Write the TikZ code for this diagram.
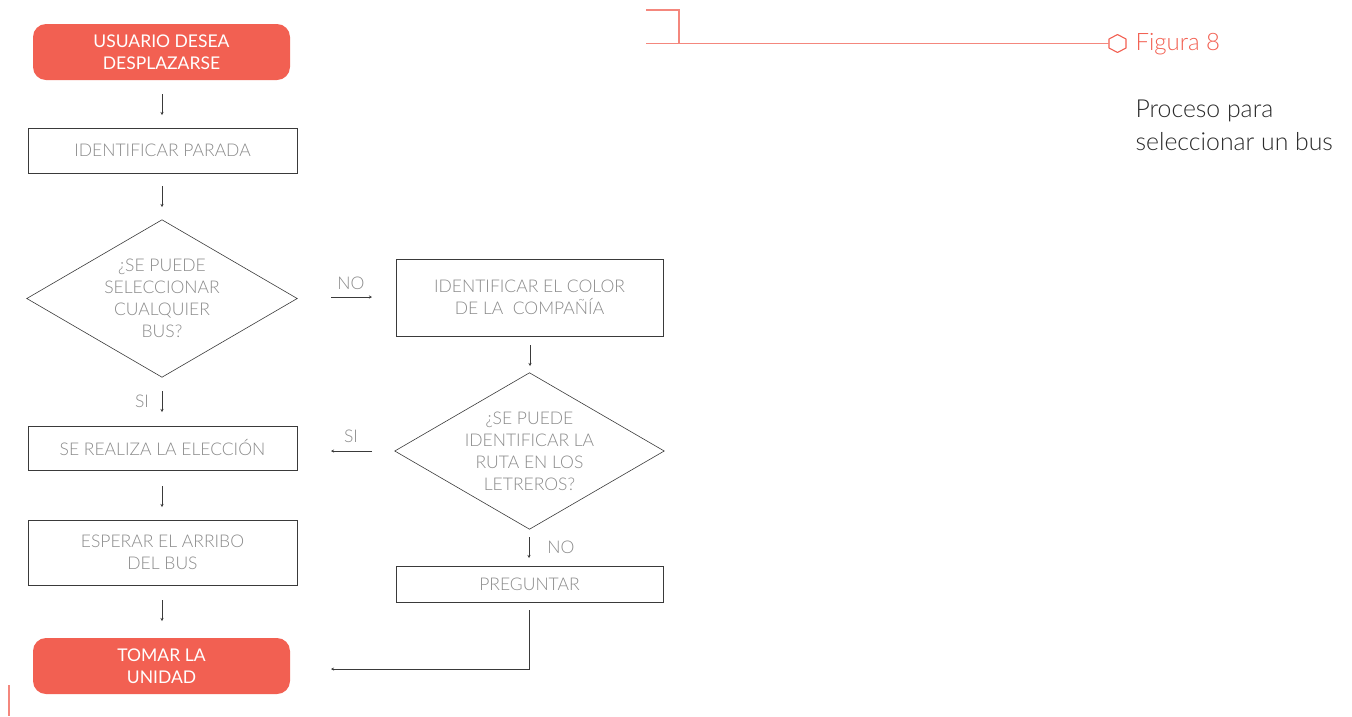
\documentclass[tikz,border=0pt]{standalone}
\usepackage{fontspec}
\setmainfont{Lato}
\newfontfamily\lightfont{Lato Light}
\usetikzlibrary{arrows.meta}
\definecolor{coral}{HTML}{F26052}
\definecolor{coralline}{HTML}{F4877D}
\definecolor{boxtext}{HTML}{8A8A8A}
\definecolor{edge}{HTML}{3A3A3A}
\definecolor{captext}{HTML}{2A2A2A}
\begin{document}
\begin{tikzpicture}[x=1pt,y=-1pt,
  every node/.style={font=\lightfont\fontsize{17.5}{22}\selectfont},
  term/.style={rounded corners=13pt, fill=coral, text=white, align=center,
    font=\fontsize{17.5}{22}\selectfont,
    minimum width=257pt, minimum height=56pt, inner sep=0pt},
  procbox/.style={draw=edge, line width=0.8pt, text=boxtext, align=center,
    minimum width=269pt, inner sep=0pt},
  decision/.style={text=boxtext, align=center, inner sep=0pt},
  outline/.style={draw=edge, line width=0.6pt},
  flow/.style={draw=edge, line width=0.8pt, -{Stealth[length=3pt,width=3pt]}},
  lbl/.style={text=boxtext}]
\useasboundingbox (0,0) rectangle (1352,716);

% left column
\node[term] (start) at (161.5,52) {USUARIO DESEA\\DESPLAZARSE};
\node[procbox, minimum height=45pt] (parada) at (162.5,150.5) {IDENTIFICAR PARADA};
\node[decision, minimum width=270pt, minimum height=157pt] (d1) at (162,298.5)
  {¿SE PUEDE\\SELECCIONAR\\CUALQUIER\\BUS?};
\draw[outline] (d1.north) -- (d1.east) -- (d1.south) -- (d1.west) -- cycle;
\node[procbox, minimum height=44pt] (eleccion) at (162.5,448) {SE REALIZA LA ELECCIÓN};
\node[procbox, minimum height=65pt] (esperar) at (162.5,552.5) {ESPERAR EL ARRIBO\\DEL BUS};
\node[term] (fin) at (161.5,666) {TOMAR LA\\UNIDAD};

% right column
\node[procbox, minimum width=267pt, minimum height=77pt] (color) at (529.5,297.5)
  {IDENTIFICAR EL COLOR\\DE LA\ \ COMPAÑÍA};
\node[decision, minimum width=269pt, minimum height=156pt] (d2) at (529.5,451)
  {¿SE PUEDE\\IDENTIFICAR LA\\RUTA EN LOS\\LETREROS?};
\draw[outline] (d2.north) -- (d2.east) -- (d2.south) -- (d2.west) -- cycle;
\node[procbox, minimum width=267pt, minimum height=36pt] (preguntar) at (529.5,584)
  {PREGUNTAR};

% short connectors between the blocks
\coordinate (a1s) at (162,94);   \coordinate (a1e) at (162,115);
\coordinate (a2s) at (162,186);  \coordinate (a2e) at (162,207);
\coordinate (a3s) at (162,391);  \coordinate (a3e) at (162,412);
\coordinate (a4s) at (162,486);  \coordinate (a4e) at (162,507);
\coordinate (a5s) at (162,600);  \coordinate (a5e) at (162,621);
\coordinate (nos) at (331,297);  \coordinate (noe) at (372,297);
\coordinate (b1s) at (530,345);  \coordinate (b1e) at (530,366);
\coordinate (sis) at (372,451);  \coordinate (sie) at (331,451);
\coordinate (b2s) at (529,537);  \coordinate (b2e) at (529,558);
\coordinate (rets) at (529,610); \coordinate (rete) at (331,669);

\draw[flow] (a1s) -- (a1e);
\draw[flow] (a2s) -- (a2e);
\draw[flow] (a3s) -- (a3e);
\draw[flow] (a4s) -- (a4e);
\draw[flow] (a5s) -- (a5e);
\draw[flow] (nos) -- (noe);
\draw[flow] (b1s) -- (b1e);
\draw[flow] (sis) -- (sie);
\draw[flow] (b2s) -- (b2e);
\draw[flow] (rets) |- (rete);

\node[lbl] (lno1) at (351,283) {NO};
\node[lbl] (lsi1) at (142,401) {SI};
\node[lbl] (lsi2) at (351,436) {SI};
\node[lbl] (lno2) at (561,547) {NO};

% header rule, hexagon marker and caption
\draw[coralline, line width=1.2pt] (646,10) -- (679,10) -- (679,43);
\coordinate (hexw) at (1109,43.5);
\draw[coral, line width=1.1pt, line join=round] (1109,39) -- (1117.5,34.5) -- (1126,39)
  -- (1126,48) -- (1117.5,52.5) -- (1109,48) -- cycle;
\draw[coralline, line width=1.2pt] (646,43.5) -- (hexw);
\node[anchor=west, text=coral, font=\lightfont\fontsize{24}{28}\selectfont] (fig) at (1132,44) {Figura 8};
\node[anchor=north west, text=captext, align=left, font=\lightfont\fontsize{24.8}{33}\selectfont]
  (cap) at (1132,96) {Proceso para\\seleccionar un bus};

% margin mark
\draw[coralline, line width=1.2pt] (9,685) -- (9,716);
\end{tikzpicture}
\end{document}
